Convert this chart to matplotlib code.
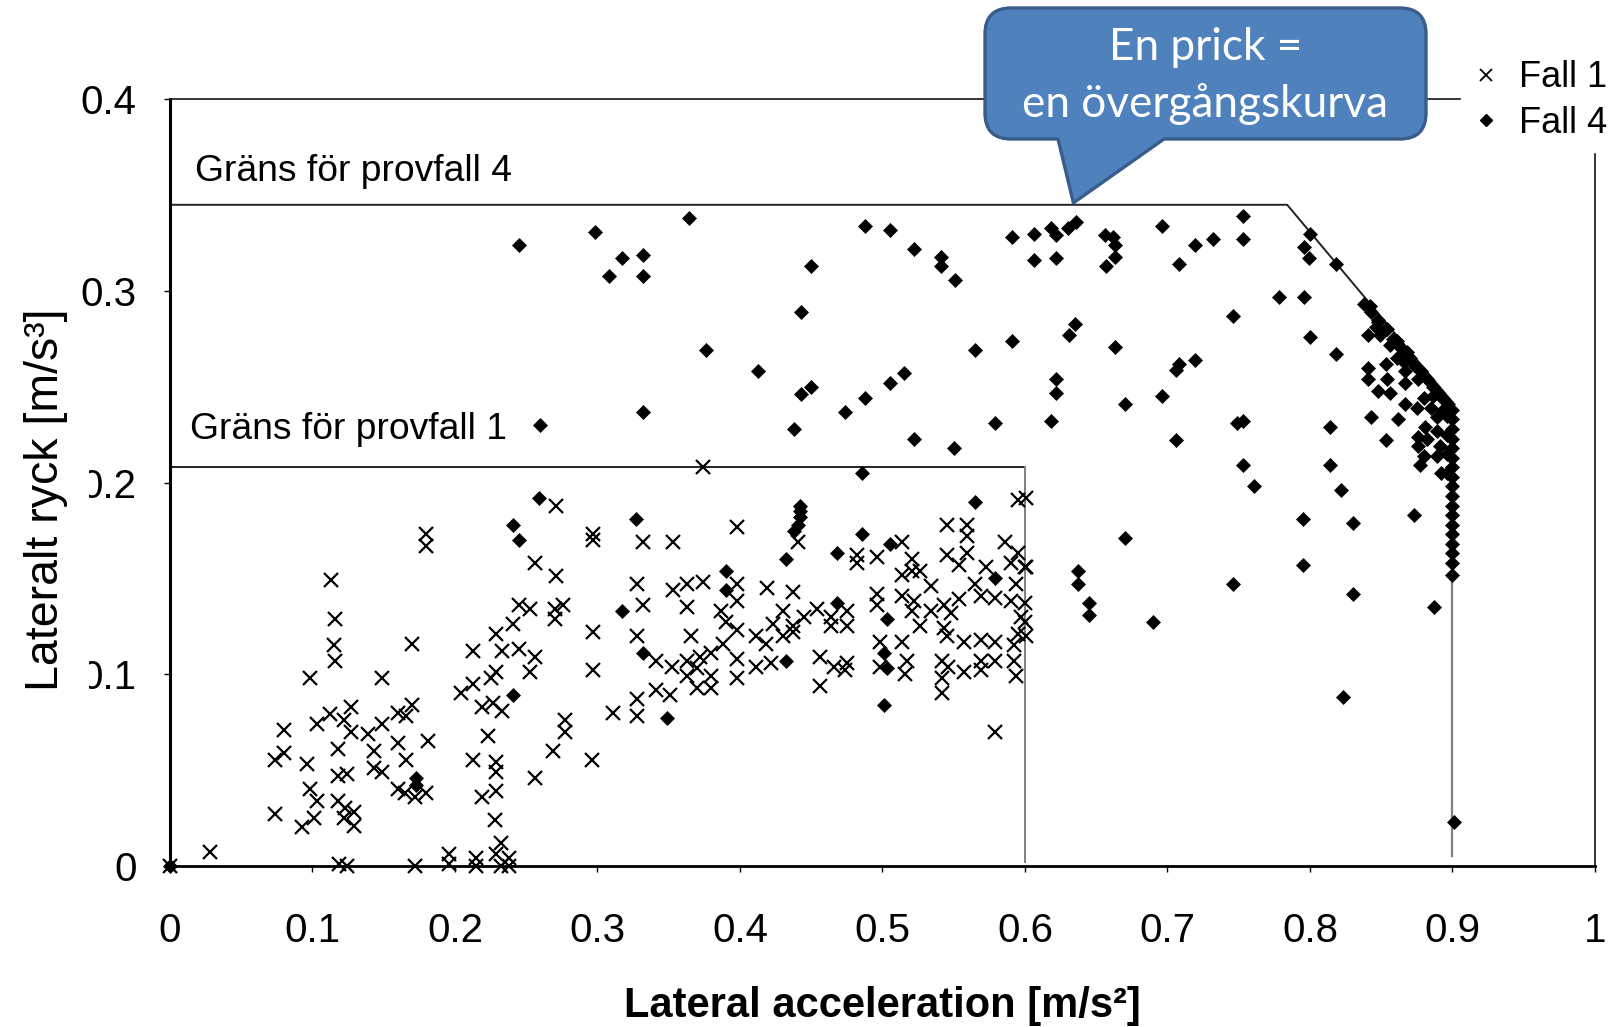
import matplotlib
matplotlib.use("Agg")
import matplotlib.pyplot as plt
from matplotlib.lines import Line2D
from matplotlib.path import Path
from matplotlib.patches import PathPatch

# ---------------- data ----------------
fall1_x = [0.0, 0.028, 0.074, 0.074, 0.080, 0.080, 0.093, 0.096, 0.098, 0.098, 0.101, 0.103, 0.103, 0.113,
           0.112, 0.116, 0.115, 0.116, 0.118, 0.118, 0.118, 0.119, 0.123, 0.122, 0.127, 0.127, 0.124, 0.129,
           0.129, 0.122, 0.124, 0.139, 0.143, 0.143, 0.149, 0.149, 0.149, 0.160, 0.160, 0.166, 0.166, 0.170,
           0.170, 0.160, 0.165, 0.172, 0.180, 0.172, 0.180, 0.180, 0.181, 0.196, 0.196, 0.204, 0.213, 0.213,
           0.213, 0.215, 0.215, 0.219, 0.219, 0.223, 0.225, 0.227, 0.229, 0.229, 0.229, 0.228, 0.229, 0.232,
           0.229, 0.232, 0.238, 0.238, 0.233, 0.229, 0.233, 0.241, 0.245, 0.245, 0.253, 0.256, 0.256, 0.253,
           0.256, 0.270, 0.270, 0.271, 0.271, 0.277, 0.277, 0.269, 0.276, 0.297, 0.297, 0.297, 0.297, 0.296,
           0.374, 0.398, 0.332, 0.353, 0.441, 0.601, 0.595, 0.545, 0.559, 0.559, 0.559, 0.545, 0.554, 0.514,
           0.496, 0.482, 0.482, 0.521, 0.521, 0.526, 0.514, 0.534, 0.586, 0.595, 0.590, 0.573, 0.601, 0.565,
           0.594, 0.569, 0.579, 0.590, 0.600, 0.328, 0.332, 0.353, 0.363, 0.374, 0.363, 0.328, 0.366, 0.398,
           0.398, 0.387, 0.390, 0.398, 0.388, 0.380, 0.372, 0.363, 0.363, 0.370, 0.370, 0.380, 0.380, 0.398,
           0.398, 0.419, 0.411, 0.418, 0.411, 0.422, 0.423, 0.430, 0.430, 0.437, 0.437, 0.437, 0.445, 0.454,
           0.464, 0.464, 0.475, 0.475, 0.456, 0.466, 0.475, 0.474, 0.456, 0.496, 0.496, 0.498, 0.498, 0.514,
           0.514, 0.517, 0.516, 0.521, 0.522, 0.526, 0.534, 0.543, 0.548, 0.554, 0.543, 0.545, 0.557, 0.542,
           0.542, 0.542, 0.546, 0.557, 0.569, 0.569, 0.569, 0.579, 0.579, 0.592, 0.592, 0.594, 0.595, 0.600,
           0.601, 0.579, 0.311, 0.328, 0.328, 0.341, 0.351, 0.341, 0.352, 0.600, 0.597]
fall1_y = [0.0, 0.007, 0.027, 0.055, 0.059, 0.071, 0.020, 0.053, 0.098, 0.040, 0.025, 0.034, 0.074, 0.149,
           0.079, 0.129, 0.115, 0.107, 0.061, 0.047, 0.034, 0.001, 0.030, 0.076, 0.083, 0.070, 0.048, 0.028,
           0.021, 0.025, 0.000, 0.069, 0.060, 0.051, 0.098, 0.074, 0.049, 0.080, 0.064, 0.078, 0.055, 0.116,
           0.084, 0.040, 0.038, 0.036, 0.038, 0.000, 0.173, 0.167, 0.065, 0.006, 0.001, 0.090, 0.112, 0.095,
           0.055, 0.004, 0.000, 0.083, 0.036, 0.068, 0.098, 0.085, 0.121, 0.054, 0.049, 0.024, 0.039, 0.012,
           0.006, 0.000, 0.004, 0.000, 0.112, 0.101, 0.081, 0.126, 0.136, 0.113, 0.134, 0.158, 0.109, 0.101,
           0.046, 0.129, 0.134, 0.188, 0.151, 0.076, 0.070, 0.060, 0.136, 0.173, 0.170, 0.122, 0.102, 0.055,
           0.208, 0.177, 0.169, 0.169, 0.169, 0.192, 0.191, 0.178, 0.178, 0.172, 0.163, 0.162, 0.157, 0.169,
           0.161, 0.162, 0.158, 0.160, 0.154, 0.154, 0.152, 0.146, 0.169, 0.163, 0.158, 0.156, 0.156, 0.147,
           0.147, 0.141, 0.140, 0.138, 0.137, 0.147, 0.136, 0.144, 0.147, 0.148, 0.135, 0.120, 0.120, 0.147,
           0.138, 0.133, 0.127, 0.123, 0.116, 0.111, 0.109, 0.107, 0.099, 0.103, 0.093, 0.093, 0.099, 0.108,
           0.098, 0.145, 0.120, 0.116, 0.104, 0.106, 0.126, 0.133, 0.120, 0.143, 0.125, 0.122, 0.130, 0.134,
           0.130, 0.125, 0.133, 0.125, 0.109, 0.104, 0.106, 0.102, 0.094, 0.142, 0.136, 0.117, 0.104, 0.141,
           0.117, 0.107, 0.100, 0.133, 0.138, 0.125, 0.133, 0.136, 0.132, 0.139, 0.124, 0.120, 0.117, 0.107,
           0.098, 0.090, 0.104, 0.101, 0.118, 0.107, 0.102, 0.117, 0.107, 0.115, 0.107, 0.099, 0.121, 0.127,
           0.120, 0.070, 0.080, 0.087, 0.078, 0.092, 0.089, 0.107, 0.104, 0.156, 0.130]

fall4_x = [0.0, 0.260, 0.259, 0.241, 0.245, 0.241, 0.173, 0.173,
           0.438, 0.522, 0.550, 0.579, 0.486, 0.565, 0.327, 0.442, 0.442, 0.442, 0.441, 0.438, 0.486, 0.505,
           0.468, 0.432, 0.390, 0.390, 0.317, 0.468, 0.503, 0.332, 0.432, 0.501, 0.503, 0.349, 0.501, 0.579,
           0.245, 0.298, 0.317, 0.332, 0.308, 0.332, 0.364, 0.376, 0.332, 0.413, 0.443, 0.450, 0.443, 0.450,
           0.474, 0.488, 0.505, 0.515, 0.488, 0.505, 0.522, 0.541, 0.541,
           0.591, 0.606, 0.618, 0.622, 0.630, 0.636, 0.606, 0.622, 0.551, 0.656, 0.662, 0.663, 0.663, 0.657,
           0.696, 0.708, 0.719, 0.732, 0.753, 0.753, 0.778, 0.746, 0.635, 0.631, 0.591, 0.565, 0.663, 0.708,
           0.706, 0.719, 0.622, 0.622, 0.696, 0.670, 0.618, 0.749, 0.753, 0.706,
           0.796, 0.800, 0.818, 0.800, 0.796, 0.799, 0.818, 0.842, 0.848, 0.841, 0.849, 0.854, 0.861, 0.868,
           0.861, 0.853, 0.841, 0.841, 0.854, 0.848, 0.856, 0.867, 0.867, 0.867, 0.875, 0.880, 0.885, 0.889,
           0.881, 0.876, 0.876, 0.889, 0.891, 0.889, 0.892, 0.880, 0.877, 0.882, 0.843, 0.862, 0.853, 0.814,
           0.814, 0.822, 0.795, 0.830, 0.873, 0.795, 0.830, 0.887, 0.823, 0.901, 0.753, 0.761, 0.746, 0.670,
           0.637, 0.637, 0.645, 0.645, 0.690,
           0.838, 0.843, 0.848, 0.853, 0.858, 0.862, 0.866, 0.870, 0.874, 0.878, 0.882, 0.886, 0.890, 0.894,
           0.897, 0.846, 0.856, 0.866, 0.876, 0.886, 0.893,
           0.900, 0.900, 0.900, 0.900, 0.900, 0.900, 0.900, 0.900, 0.900, 0.900, 0.900, 0.900, 0.900, 0.900,
           0.900, 0.900, 0.900, 0.900, 0.896, 0.896, 0.896, 0.896]
fall4_y = [0.0, 0.230, 0.192, 0.178, 0.170, 0.089, 0.046, 0.042,
           0.228, 0.223, 0.218, 0.231, 0.205, 0.190, 0.181, 0.188, 0.185, 0.182, 0.178, 0.175, 0.173, 0.168,
           0.163, 0.160, 0.154, 0.144, 0.133, 0.137, 0.129, 0.111, 0.107, 0.111, 0.103, 0.077, 0.084, 0.150,
           0.324, 0.331, 0.317, 0.319, 0.308, 0.308, 0.338, 0.269, 0.237, 0.258, 0.289, 0.313, 0.246, 0.250,
           0.237, 0.244, 0.252, 0.257, 0.334, 0.332, 0.322, 0.318, 0.313,
           0.328, 0.330, 0.333, 0.329, 0.333, 0.336, 0.316, 0.317, 0.306, 0.329, 0.328, 0.324, 0.318, 0.313,
           0.334, 0.314, 0.324, 0.327, 0.339, 0.327, 0.297, 0.287, 0.283, 0.277, 0.274, 0.269, 0.271, 0.262,
           0.259, 0.264, 0.254, 0.247, 0.245, 0.241, 0.232, 0.231, 0.232, 0.222,
           0.297, 0.276, 0.267, 0.330, 0.323, 0.317, 0.314, 0.292, 0.285, 0.277, 0.277, 0.280, 0.274, 0.268,
           0.265, 0.262, 0.260, 0.254, 0.254, 0.248, 0.247, 0.258, 0.252, 0.241, 0.239, 0.244, 0.239, 0.234,
           0.229, 0.224, 0.219, 0.227, 0.219, 0.214, 0.205, 0.214, 0.209, 0.223, 0.234, 0.233, 0.222, 0.229,
           0.209, 0.196, 0.181, 0.179, 0.183, 0.157, 0.142, 0.135, 0.088, 0.023, 0.209, 0.198, 0.147, 0.171,
           0.154, 0.147, 0.137, 0.131, 0.127,
           0.293, 0.289, 0.284, 0.280, 0.275, 0.272, 0.268, 0.265, 0.261, 0.258, 0.254, 0.250, 0.247, 0.243,
           0.241, 0.281, 0.272, 0.263, 0.254, 0.245, 0.238,
           0.238, 0.233, 0.228, 0.223, 0.218, 0.213, 0.208, 0.203, 0.198, 0.193, 0.188, 0.183, 0.178, 0.173,
           0.168, 0.163, 0.158, 0.152, 0.235, 0.225, 0.215, 0.205]

limit1_x = [0.0, 0.6]
limit1_y = [0.208, 0.208]
limit1_vx = [0.6, 0.6]
limit1_vy = [0.208, 0.002]
limit4_x = [0.0, 0.784, 0.9]
limit4_y = [0.345, 0.345, 0.242]
limit4_vx = [0.9, 0.9]
limit4_vy = [0.242, 0.005]

xticks = [0.0, 0.1, 0.2, 0.3, 0.4, 0.5, 0.6, 0.7, 0.8, 0.9, 1.0]
xtick_labels = ["0", "0.1", "0.2", "0.3", "0.4", "0.5", "0.6", "0.7", "0.8", "0.9", "1"]
yticks = [0.0, 0.1, 0.2, 0.3, 0.4]
ytick_labels = ["0", "0.1", "0.2", "0.3", "0.4"]

series_labels = ["Fall 1", "Fall 4"]
xlabel = "Lateral acceleration [m/s²]"
ylabel = "Lateralt ryck [m/s³]"
limit4_text = "Gräns för provfall 4"
limit1_text = "Gräns för provfall 1"
callout_lines = ["En prick =", "en övergångskurva"]
callout_target = (0.634, 0.346)

SANS = ["Liberation Sans", "DejaVu Sans"]

# ---------------- figure ----------------
W, H = 1624, 1027
fig = plt.figure(figsize=(W / 100, H / 100), dpi=100)
ax = fig.add_axes([169.9 / W, 161.2 / H, (1595 - 169.9) / W, (865.8 - 99.4) / H])
ax.set_xlim(0, 1)
ax.set_ylim(0, 0.4)

for side, lw in (("left", 2.2), ("bottom", 2.0), ("top", 1.1), ("right", 1.1)):
    ax.spines[side].set_linewidth(lw)
    ax.spines[side].set_color("black")

ax.set_xticks(xticks)
ax.set_xticklabels(xtick_labels, family=SANS, fontsize=29)
ax.set_yticks(yticks)
ax.set_yticklabels(ytick_labels, family=SANS, fontsize=29)
ax.tick_params(axis="x", direction="out", length=4, width=1, pad=29)
ax.tick_params(axis="y", direction="out", length=4, width=1, pad=20)

# limit lines
ax.plot(limit1_x, limit1_y, color="#222222", lw=1.4, zorder=2)
ax.plot(limit1_vx, limit1_vy, color="#7f7f7f", lw=1.4, zorder=2)
ax.plot(limit4_x, limit4_y, color="#222222", lw=1.4, zorder=2)
ax.plot(limit4_vx, limit4_vy, color="#7f7f7f", lw=1.6, zorder=2)

# data
ax.plot(fall1_x, fall1_y, ls="none", marker="x", color="black", ms=10.5, mew=1.6,
        zorder=3, clip_on=False)
ax.plot(fall4_x, fall4_y, ls="none", marker="D", color="black", ms=7.6, mew=0.5,
        zorder=4, clip_on=False)

# limit annotations
ax.text(0.0174, 0.3622, limit4_text, family=SANS, fontsize=26.8, va="center", ha="left")
ax.text(0.0138, 0.2276, limit1_text, family=SANS, fontsize=26.8, va="center", ha="left")

# axis labels
ax.set_xlabel(xlabel, family=SANS, fontsize=30, fontweight="bold")
ax.xaxis.set_label_coords(0.5, (865.8 - 1005.5) / (865.8 - 99.4))
ax.xaxis.label.set_va("center")


class _BelowExtend:
    """Square text box that reaches further on the baseline side."""
    def __init__(self, ext):
        self.ext = ext

    def __call__(self, x0, y0, width, height, mutation_size):
        e = self.ext * mutation_size
        return Path([(x0, y0 - e), (x0 + width, y0 - e), (x0 + width, y0 + height),
                     (x0, y0 + height), (x0, y0 - e)], closed=True)


ax.set_ylabel(ylabel, family=SANS, fontsize=33.5,
              bbox=dict(boxstyle=_BelowExtend(0.45), fc="white", ec="none"))
ax.yaxis.label.set_va("center")
ax.yaxis.set_label_coords((46.5 - 169.9) / (1595 - 169.9), 0.4777)

# legend
handles = [Line2D([], [], ls="none", marker="x", color="black", ms=8, mew=1.3, label=series_labels[0]),
           Line2D([], [], ls="none", marker="D", color="black", ms=6, label=series_labels[1])]
leg = ax.legend(handles=handles, loc="upper left", bbox_to_anchor=(1461 / W, 1 - 49.6 / H),
                bbox_transform=fig.transFigure, frameon=True, fancybox=False,
                facecolor="white", edgecolor="white", framealpha=1, borderpad=0.3,
                handlelength=0.8, handletextpad=0.5, labelspacing=0.29, borderaxespad=0,
                prop={"family": SANS, "size": 26})
leg.set_zorder(10)

# callout
fig.canvas.draw()
tip_disp = ax.transData.transform(callout_target)
tip = fig.transFigure.inverted().transform(tip_disp)
tipx, tipy = tip[0] * W, tip[1] * H
L, R, yt, yb, r = 985.0, 1426.0, H - 8.0, H - 139.0, 26.0
bl, br = 1058.0, 1164.0
verts = [(L + r, yb), (bl, yb), (tipx, tipy), (br, yb), (R - r, yb),
         (R, yb), (R, yb + r), (R, yt - r), (R, yt), (R - r, yt),
         (L + r, yt), (L, yt), (L, yt - r), (L, yb + r), (L, yb), (L + r, yb), (L + r, yb)]
codes = [Path.MOVETO, Path.LINETO, Path.LINETO, Path.LINETO, Path.LINETO,
         Path.CURVE3, Path.CURVE3, Path.LINETO, Path.CURVE3, Path.CURVE3,
         Path.LINETO, Path.CURVE3, Path.CURVE3, Path.LINETO, Path.CURVE3, Path.CURVE3, Path.CLOSEPOLY]
verts = [(vx / W, vy / H) for vx, vy in verts]
callout = PathPatch(Path(verts, codes), transform=fig.transFigure, facecolor="#4F81BD",
                    edgecolor="#385D8A", lw=2.4, joinstyle="round", zorder=5)
fig.add_artist(callout)
cx = (L + R) / 2 / W
fig.text(cx, 1 - 47.5 / H, callout_lines[0], color="white", family=["Lato", "DejaVu Sans"],
         fontsize=31.8, ha="center", va="center", zorder=6)
fig.text(cx, 1 - 104.5 / H, callout_lines[1], color="white", family=["Lato", "DejaVu Sans"],
         fontsize=31.8, ha="center", va="center", zorder=6)

fig.savefig("out.png", dpi=100, facecolor="white")
